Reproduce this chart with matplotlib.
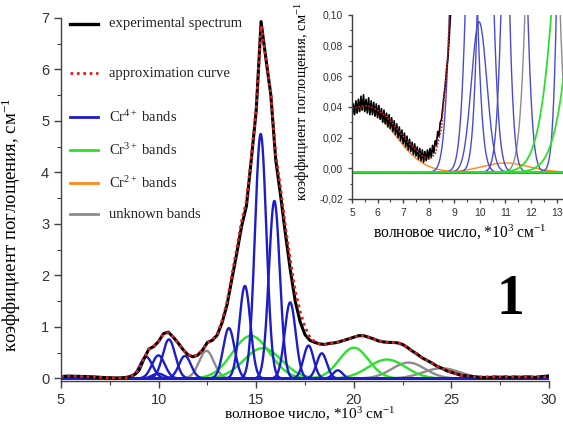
import numpy as np
import matplotlib.pyplot as plt
from matplotlib.lines import Line2D
from matplotlib.ticker import MultipleLocator, FuncFormatter

plt.rcParams['font.family'] = ['Liberation Serif', 'DejaVu Serif']
plt.rcParams['mathtext.fontset'] = 'custom'
plt.rcParams['mathtext.rm'] = 'Liberation Serif'
plt.rcParams['mathtext.it'] = 'Liberation Serif:italic'
plt.rcParams['mathtext.bf'] = 'Liberation Serif:bold'

# experimental spectrum, fine step in the noisy low-frequency part
exp_wn_low = np.round(np.arange(5.0, 8.901, 0.05), 2)
exp_abs_low = [0.034, 0.042, 0.035, 0.044, 0.036, 0.045, 0.037, 0.047, 0.038, 0.048,
               0.037, 0.045, 0.036, 0.046, 0.035, 0.044, 0.035, 0.043, 0.034, 0.042,
               0.033, 0.041, 0.032, 0.039, 0.030, 0.038, 0.029, 0.036, 0.027, 0.035,
               0.026, 0.033, 0.024, 0.031, 0.022, 0.029, 0.020, 0.027, 0.018, 0.025,
               0.016, 0.023, 0.014, 0.021, 0.012, 0.019, 0.011, 0.017, 0.009, 0.016,
               0.008, 0.014, 0.006, 0.013, 0.005, 0.012, 0.004, 0.011, 0.005, 0.012,
               0.006, 0.013, 0.007, 0.015, 0.010, 0.018, 0.015, 0.024, 0.021, 0.030,
               0.032, 0.040, 0.048, 0.055, 0.065, 0.072, 0.085, 0.100, 0.120]
# rest of the spectrum, 0.25 step
exp_wn_high = np.round(np.arange(9.0, 30.001, 0.25), 2)
exp_abs_high = [0.16, 0.38, 0.57, 0.62, 0.72, 0.87, 0.90, 0.80,
                0.69, 0.56, 0.46, 0.42, 0.45, 0.55, 0.70, 0.74,
                0.84, 1.08, 1.42, 1.92, 2.42, 2.95, 3.35, 4.25,
                5.20, 6.93, 6.20, 5.50, 4.25, 3.55, 2.80, 2.10,
                1.50, 1.10, 0.85, 0.74, 0.70, 0.67, 0.66, 0.68,
                0.69, 0.71, 0.74, 0.77, 0.80, 0.83, 0.83, 0.80,
                0.77, 0.73, 0.71, 0.70, 0.70, 0.69, 0.66, 0.60,
                0.53, 0.47, 0.40, 0.35, 0.30, 0.24, 0.20, 0.15,
                0.12, 0.09, 0.06, 0.05, 0.04, 0.03, 0.02, 0.02,
                0.02, 0.03, 0.02, 0.03, 0.02, 0.03, 0.02, 0.03,
                0.03, 0.02, 0.03, 0.04, 0.05]

# approximation curve
fit_wn = np.round(np.arange(5.0, 30.001, 0.25), 2)
fit_abs = [0.039, 0.040, 0.041, 0.040, 0.038, 0.035, 0.031, 0.026,
           0.021, 0.016, 0.012, 0.008, 0.006, 0.009, 0.026, 0.075,
           0.18, 0.40, 0.56, 0.62, 0.72, 0.86, 0.89, 0.80,
           0.68, 0.56, 0.46, 0.43, 0.46, 0.56, 0.69, 0.75,
           0.86, 1.12, 1.48, 2.00, 2.52, 3.05, 3.45, 4.30,
           5.25, 6.85, 6.22, 5.55, 4.35, 3.70, 2.95, 2.30,
           1.70, 1.30, 1.00, 0.80, 0.71, 0.67, 0.66, 0.68,
           0.69, 0.71, 0.74, 0.77, 0.80, 0.83, 0.83, 0.80,
           0.77, 0.73, 0.71, 0.70, 0.70, 0.69, 0.66, 0.60,
           0.53, 0.47, 0.40, 0.35, 0.30, 0.24, 0.20, 0.15,
           0.12, 0.09, 0.06, 0.05, 0.04, 0.03, 0.03, 0.03,
           0.03, 0.03, 0.03, 0.03, 0.03, 0.03, 0.03, 0.03,
           0.03, 0.03, 0.03, 0.03, 0.03]

# gaussian bands: centre (10^3 cm-1), height (cm-1), width (sigma)
cr4_center = [9.36, 9.97, 9.99, 10.53, 11.35, 13.60, 14.42, 15.23, 15.93, 16.74, 17.68, 18.36, 19.18]
cr4_height = [0.42, 0.098, 0.45, 0.76, 0.44, 0.98, 1.80, 4.75, 3.45, 1.48, 0.64, 0.49, 0.16]
cr4_width = [0.33, 0.30, 0.33, 0.32, 0.31, 0.29, 0.28, 0.29, 0.28, 0.28, 0.26, 0.26, 0.24]

cr3_center = [14.73, 15.33, 20.00, 21.70]
cr3_height = [0.83, 0.59, 0.60, 0.37]
cr3_width = [0.95, 0.97, 0.75, 0.95]

cr2_center = [5.50, 11.00]
cr2_height = [0.041, 0.006]
cr2_width = [1.15, 0.90]

unk_center = [12.45, 22.80, 24.50]
unk_height = [0.54, 0.31, 0.20]
unk_width = [0.38, 0.85, 0.95]

band_base = -0.0025

c_blue = '#1c1cc8'
c_green = '#2ee02e'
c_orange = '#ff8a1a'
c_gray = '#8c8c8c'
c_red = '#e02020'


def band(x, c, h, w):
  return h * np.exp(-0.5 * ((x - c) / w) ** 2) + band_base


def draw_bands(ax, centers, heights, widths, color, lw, alpha=1.0):
  x = np.linspace(5, 30, 2001)
  for c, h, w in zip(centers, heights, widths):
    ax.plot(x, band(x, c, h, w), color=color, lw=lw, alpha=alpha)


def style_axes(ax, labelsize, major_len, minor_len):
  for side in ['top', 'right']:
    ax.spines[side].set_visible(False)
  for side in ['left', 'bottom']:
    ax.spines[side].set_color('#404040')
    ax.spines[side].set_linewidth(1.0)
  ax.tick_params(which='major', direction='out', length=major_len, width=1.0,
                 color='#404040', labelsize=labelsize, labelcolor='#333333',
                 labelfontfamily='Liberation Sans')
  ax.tick_params(which='minor', direction='out', length=minor_len, width=0.8, color='#404040')


W, H = 563, 437
fig = plt.figure(figsize=(W / 100, H / 100), dpi=100)

#######################################################
# main plot
#######################################################
ax = fig.add_axes([61 / W, 1 - 381 / H, (549 - 61) / W, (381 - 18) / H])
draw_bands(ax, unk_center, unk_height, unk_width, c_gray, 1.7)
draw_bands(ax, cr2_center, cr2_height, cr2_width, c_orange, 1.7)
draw_bands(ax, cr3_center, cr3_height, cr3_width, c_green, 1.7)
draw_bands(ax, cr4_center, cr4_height, cr4_width, c_blue, 1.7)
ax.plot(np.concatenate([exp_wn_low, exp_wn_high]), exp_abs_low + exp_abs_high,
        color='black', lw=2.2)
ax.plot(fit_wn, fit_abs, color=c_red, lw=2.0, linestyle=(0, (1, 1.3)))

ax.set_xlim(5, 30)
ax.set_ylim(-0.05, 7)
ax.xaxis.set_major_locator(MultipleLocator(5))
ax.xaxis.set_minor_locator(MultipleLocator(2.5))
ax.yaxis.set_major_locator(MultipleLocator(1))
ax.yaxis.set_minor_locator(MultipleLocator(0.5))
style_axes(ax, 10.5, 5, 3)
ax.set_xlabel('волновое число, *10$^{3}$ см$^{-1}$', fontsize=11)
ax.set_ylabel('коэффициент поглощения, см$^{-1}$', fontsize=13.5)
ax.xaxis.set_label_coords(0.51, -0.067)
ax.yaxis.set_label_coords(-0.078, 0.43)

# legend drawn by hand, like the Origin one
leg_items = [('experimental spectrum', 'black', '-', 2.4),
             ('approximation curve', c_red, (0, (1, 1.3)), 2.0),
             ('Cr$^{4+}$ bands', c_blue, '-', 2.0),
             ('Cr$^{3+}$ bands', c_green, '-', 2.0),
             ('Cr$^{2+}$ bands', c_orange, '-', 2.0),
             ('unknown bands', c_gray, '-', 2.0)]
leg_y = [24, 73, 117, 150, 183, 214]
for (txt, col, ls, lw), py in zip(leg_items, leg_y):
  yf = 1 - py / H
  fig.add_artist(Line2D([70 / W, 98 / W], [yf, yf], color=col, lw=lw, linestyle=ls,
                        transform=fig.transFigure))
  fig.text(109 / W, yf, txt, fontsize=10.5, va='center', ha='left', color='#222222')

fig.text(510 / W, 1 - 300 / H, '1', fontsize=40, fontweight='bold', ha='center', va='center')

#######################################################
# inset
#######################################################
axi = fig.add_axes([352 / W, 1 - 199 / H, (563 - 352) / W, (199 - 15) / H])
draw_bands(axi, unk_center, unk_height, unk_width, c_gray, 1.0)
draw_bands(axi, cr2_center, cr2_height, cr2_width, c_orange, 1.0)
draw_bands(axi, cr4_center, cr4_height, cr4_width, '#4a4ad0', 1.0)
draw_bands(axi, cr3_center, cr3_height, cr3_width, c_green, 1.3)
axi.plot(np.concatenate([exp_wn_low, exp_wn_high]), exp_abs_low + exp_abs_high,
         color='black', lw=1.2)
axi.plot(fit_wn, fit_abs, color=c_red, lw=1.2, linestyle=(0, (1, 1)))

axi.set_xlim(5, 13.25)
axi.set_ylim(-0.02, 0.10)
axi.xaxis.set_major_locator(MultipleLocator(1))
axi.xaxis.set_minor_locator(MultipleLocator(0.5))
axi.yaxis.set_major_locator(MultipleLocator(0.02))
axi.yaxis.set_minor_locator(MultipleLocator(0.01))
axi.yaxis.set_major_formatter(FuncFormatter(lambda v, p: ('%.2f' % v).replace('.', ',')))
style_axes(axi, 7.5, 3, 1.8)
axi.set_xlabel('волновое число, *10$^{3}$ см$^{-1}$', fontsize=11.2)
axi.set_ylabel('коэффициент поглощения, см$^{-1}$', fontsize=10.5)
axi.xaxis.set_label_coords(0.51, -0.13)
axi.yaxis.set_label_coords(-0.19, 0.53)

fig.savefig('out.png', dpi=100)
